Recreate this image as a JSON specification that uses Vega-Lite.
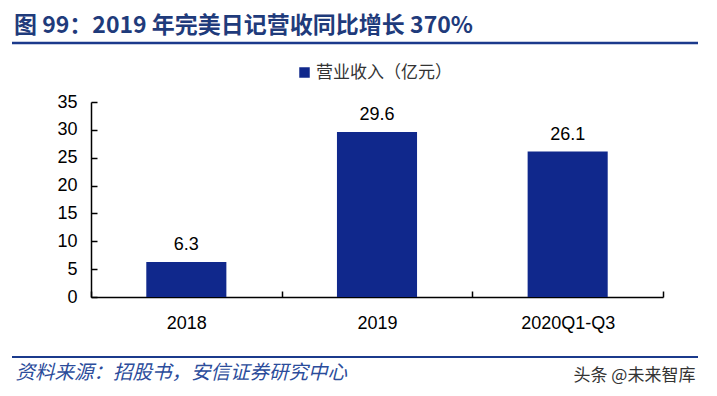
{
  "$schema": "https://vega.github.io/schema/vega-lite/v6.json",
  "width": 572,
  "height": 195,
  "autosize": "none",
  "padding": {"left": 91, "top": 102, "right": 54, "bottom": 99},
  "background": "#ffffff",
  "config": {
    "view": {"stroke": null},
    "font": "Liberation Sans"
  },
  "title": {
    "text": "图 99：2019 年完美日记营收同比增长 370%",
    "anchor": "start",
    "frame": "group",
    "dx": -77,
    "dy": 22,
    "fontSize": 23,
    "font": "Noto Sans CJK SC",
    "fontWeight": "bold",
    "color": "#1F3B7B",
    "baseline": "middle",
    "offset": 15
  },
  "data": {
    "values": [
      {"period": "2018", "revenue": 6.3, "series": "营业收入（亿元）"},
      {"period": "2019", "revenue": 29.6, "series": "营业收入（亿元）"},
      {"period": "2020Q1-Q3", "revenue": 26.1, "series": "营业收入（亿元）"}
    ]
  },
  "layer": [
    {
      "mark": {"type": "bar", "width": {"band": 0.42}},
      "encoding": {
        "x": {
          "field": "period",
          "type": "nominal",
          "sort": null,
          "scale": {"paddingInner": 0, "paddingOuter": 0},
          "axis": {
            "title": "资料来源：招股书，安信证券研究中心",
            "titleX": -76,
            "titleY": 75,
            "titleAlign": "left",
            "titleAnchor": "start",
            "titleBaseline": "middle",
            "titleFont": "Noto Sans CJK SC",
            "titleFontSize": 19.5,
            "titleFontStyle": "italic",
            "titleFontWeight": "normal",
            "titleColor": "#2B4C9B",
            "labelAngle": 0,
            "labelFontSize": 18,
            "labelColor": "#000000",
            "labelPadding": 23,
            "tickBand": "extent",
            "tickSize": -6,
            "tickColor": "#000000",
            "tickWidth": 1.5,
            "domainColor": "#000000",
            "domainWidth": 1.5
          }
        },
        "y": {
          "field": "revenue",
          "type": "quantitative",
          "scale": {"domain": [0, 35], "nice": false},
          "axis": {
            "values": [0, 5, 10, 15, 20, 25, 30, 35],
            "grid": false,
            "title": "头条 @未来智库",
            "titleAngle": 0,
            "titleX": 482,
            "titleY": 273,
            "titleAlign": "left",
            "titleBaseline": "middle",
            "titleFont": "Noto Sans CJK SC",
            "titleFontSize": 17,
            "titleFontWeight": "normal",
            "titleColor": "#333333",
            "labelFontSize": 18,
            "labelColor": "#000000",
            "labelPadding": 20,
            "tickSize": -6,
            "tickColor": "#000000",
            "tickWidth": 1.5,
            "domainColor": "#000000",
            "domainWidth": 1.5
          }
        },
        "color": {
          "field": "series",
          "type": "nominal",
          "scale": {"range": ["#10288C"]},
          "legend": {
            "title": null,
            "orient": "none",
            "legendX": 205,
            "legendY": -38,
            "symbolType": "square",
            "symbolSize": 110,
            "symbolStrokeWidth": 0,
            "labelFont": "Noto Sans CJK SC",
            "labelFontSize": 17,
            "labelColor": "#333333",
            "labelOffset": 3
          }
        }
      }
    },
    {
      "mark": {"type": "text", "baseline": "alphabetic", "dy": -12, "fontSize": 18, "color": "#000000"},
      "encoding": {
        "x": {"field": "period", "type": "nominal", "sort": null, "scale": {"paddingInner": 0, "paddingOuter": 0}, "axis": null},
        "y": {"field": "revenue", "type": "quantitative", "scale": {"domain": [0, 35], "nice": false}, "axis": null},
        "text": {"field": "revenue", "type": "quantitative", "format": ".1f"}
      }
    },
    {
      "data": {"values": [{}]},
      "mark": {"type": "rule", "color": "#1B3A8C", "strokeWidth": 2.5},
      "encoding": {
        "x": {"datum": 0, "type": "quantitative", "scale": {"domain": [0, 1], "range": [-79, 607]}, "axis": null},
        "x2": {"datum": 1},
        "y": {"datum": 45.6, "type": "quantitative", "scale": {"domain": [0, 35], "nice": false}, "axis": null}
      }
    },
    {
      "data": {"values": [{}]},
      "mark": {"type": "rule", "color": "#1B3A8C", "strokeWidth": 2.2},
      "encoding": {
        "x": {"datum": 0, "type": "quantitative", "scale": {"domain": [0, 1], "range": [-79, 607]}, "axis": null},
        "x2": {"datum": 1},
        "y": {"datum": -10.77, "type": "quantitative", "scale": {"domain": [0, 35], "nice": false}, "axis": null}
      }
    }
  ],
  "resolve": {"scale": {"x": "independent"}, "axis": {"x": "independent", "y": "independent"}}
}
